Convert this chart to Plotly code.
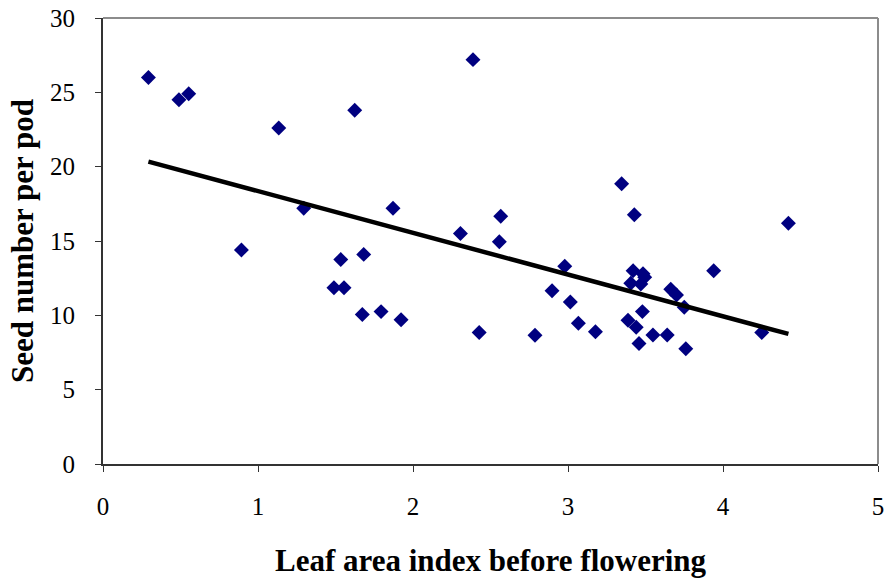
import plotly.graph_objects as go

# Leaf area index before flowering (x) and seed number per pod (y)
lai = [0.293, 0.49, 0.553, 0.893, 1.134, 1.295, 1.49, 1.534, 1.555, 1.624,
       1.673, 1.682, 1.794, 1.871, 1.923, 2.306, 2.387, 2.427, 2.557, 2.566,
       2.787, 2.897, 2.979, 3.015, 3.067, 3.177, 3.346, 3.387, 3.405, 3.42,
       3.428, 3.44, 3.458, 3.47, 3.484, 3.48, 3.495, 3.548, 3.64, 3.663,
       3.70, 3.75, 3.76, 3.94, 4.25, 4.422]
seeds = [26.0, 24.5, 24.9, 14.4, 22.6, 17.2, 11.85, 13.75, 11.85, 23.8,
         10.05, 14.1, 10.25, 17.2, 9.7, 15.5, 27.2, 8.85, 14.95, 16.67,
         8.66, 11.66, 13.3, 10.9, 9.47, 8.9, 18.85, 9.67, 12.16, 13.0,
         16.76, 9.2, 8.1, 12.1, 12.8, 10.25, 12.56, 8.68, 8.68, 11.76,
         11.37, 10.55, 7.75, 13.0, 8.84, 16.2]

# Linear trend line end points
trend_x = [0.293, 4.422]
trend_y = [20.34, 8.75]

x_ticks = [0, 1, 2, 3, 4, 5]
y_ticks = [0, 5, 10, 15, 20, 25, 30]

font_family = "Liberation Serif, Times New Roman, serif"

fig = go.Figure()
fig.add_trace(go.Scatter(
    x=lai, y=seeds, mode="markers",
    marker=dict(symbol="diamond", size=11.5, color="#000080",
                line=dict(width=0)),
    showlegend=False, cliponaxis=False))
fig.add_trace(go.Scatter(
    x=trend_x, y=trend_y, mode="lines",
    line=dict(color="black", width=4.5),
    showlegend=False))

fig.update_layout(
    width=887, height=578,
    margin=dict(l=103, r=9, t=18, b=114, autoexpand=False),
    paper_bgcolor="white", plot_bgcolor="white",
    font=dict(family=font_family, color="black", size=18),
    xaxis=dict(
        range=[0, 5], tickvals=x_ticks, ticktext=[str(v) for v in x_ticks],
        showgrid=False, zeroline=False,
        showline=True, linecolor="#333333", linewidth=2,
        ticks="outside", ticklen=6, tickwidth=1, tickcolor="#333333",
        ticklabelstandoff=13,
        tickfont=dict(size=25, family=font_family),
        title=dict(text="<b>Leaf area index before flowering</b>",
                   font=dict(size=31, family=font_family), standoff=32),
        automargin=False),
    yaxis=dict(
        range=[0, 30], tickvals=y_ticks, ticktext=[str(v) for v in y_ticks],
        showgrid=False, zeroline=False,
        showline=True, linecolor="#333333", linewidth=2,
        ticks="outside", ticklen=6, tickwidth=1, tickcolor="#333333",
        ticklabelstandoff=15,
        tickfont=dict(size=25, family=font_family),
        title=dict(text="<b>Seed number per pod</b>",
                   font=dict(size=31, family=font_family), standoff=7),
        automargin=False),
    shapes=[
        dict(type="line", xref="paper", yref="paper", x0=0, x1=1, y0=1, y1=1,
             line=dict(color="#8c8c8c", width=2)),
        dict(type="line", xref="paper", yref="paper", x0=1, x1=1, y0=0, y1=1,
             line=dict(color="#8c8c8c", width=2)),
    ],
)

fig.write_html("out.html")
